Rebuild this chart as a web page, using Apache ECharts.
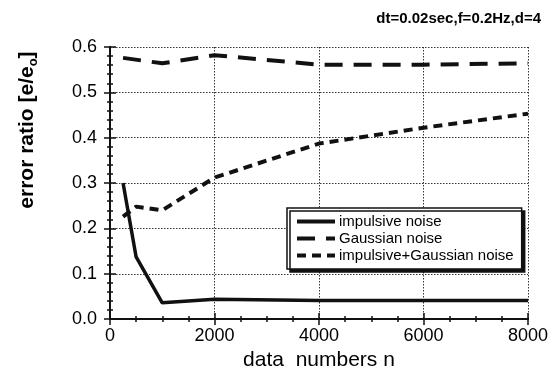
<!DOCTYPE html>
<html><head><meta charset="utf-8">
<script src="https://cdn.jsdelivr.net/npm/echarts@6/dist/echarts.min.js"></script>
<style>html,body{margin:0;padding:0;background:#fff}#c{width:552px;height:376px}</style>
</head><body><div id="c"></div>
<script>
const titleText = 'dt=0.02sec,f=0.2Hz,d=4';
const seriesNames = ['impulsive noise', 'Gaussian noise', 'impulsive+Gaussian noise'];
const impulsive = [[250, 0.30], [500, 0.137], [1000, 0.036], [2000, 0.044], [4000, 0.041], [6000, 0.041], [8000, 0.041]];
const gaussian = [[250, 0.576], [1000, 0.564], [2000, 0.582], [4000, 0.561], [6000, 0.561], [8000, 0.564]];
const combined = [[250, 0.226], [500, 0.248], [1000, 0.240], [2000, 0.312], [4000, 0.387], [6000, 0.422], [8000, 0.453]];
const xTicks = [0, 2000, 4000, 6000, 8000];
const yTicks = ['0.0', '0.1', '0.2', '0.3', '0.4', '0.5', '0.6'];

const chart = echarts.init(document.getElementById('c'));
const F = 'Liberation Sans, Arial, sans-serif';
const tickStyle = {inside: true, length: 6, lineStyle: {color: '#111', width: 1.5}};
const minorStyle = {show: true, length: 3, lineStyle: {color: '#111', width: 1.5}};
const dashes = ['solid', [18, 11], [9, 6]];
chart.setOption({
  animation: false,
  backgroundColor: '#fff',
  title: {text: titleText, right: 6, top: 6, textStyle: {fontFamily: F, fontSize: 15, fontWeight: 'bold', color: '#000'}},
  grid: {left: 110, right: 24, top: 47, bottom: 53},
  legend: {
    data: seriesNames.map((n, i) => ({name: n, lineStyle: {type: dashes[i], width: 4, color: '#111'}, itemStyle: {opacity: 0}})),
    orient: 'vertical', left: 287, top: 208,
    itemWidth: 38, itemHeight: 14, itemGap: 2, padding: [6, 8, 6, 8],
    backgroundColor: '#fff', borderColor: '#111', borderWidth: 1.5,
    shadowColor: '#111', shadowOffsetX: 3, shadowOffsetY: 3, shadowBlur: 0,
    textStyle: {fontFamily: F, fontSize: 15, color: '#000', padding: [0, 0, 0, -1]}
  },
  xAxis: [{
    type: 'value', min: 0, max: 8000, interval: 2000,
    name: 'data  numbers n', nameLocation: 'middle', nameGap: 29,
    nameTextStyle: {fontFamily: F, fontSize: 21, color: '#000'},
    axisLine: {show: true, lineStyle: {color: '#111', width: 2}},
    axisTick: tickStyle, minorTick: Object.assign({splitNumber: 4}, minorStyle),
    axisLabel: {fontFamily: F, fontSize: 18, color: '#000', margin: 8, formatter: v => xTicks.includes(v) ? String(v) : ''},
    splitLine: {show: true, lineStyle: {color: '#333', type: [1.5, 1.5], width: 1}}
  }, {
    type: 'value', min: 0, max: 8000, interval: 2000, position: 'top',
    axisLine: {show: true, lineStyle: {color: '#111', width: 2}},
    axisTick: tickStyle, minorTick: Object.assign({splitNumber: 4}, minorStyle),
    axisLabel: {show: false}, splitLine: {show: false}
  }],
  yAxis: [{
    type: 'value', min: 0, max: 0.6, interval: 0.1,
    name: 'error ratio [e/e{s|o}]', nameLocation: 'middle', nameGap: 70,
    nameTextStyle: {fontFamily: F, fontSize: 21, fontWeight: 'bold', color: '#000', padding: [0, 0, 0, 106],
      rich: {s: {fontFamily: F, fontSize: 13, fontWeight: 'bold', color: '#000', padding: [12, 0, 0, 0]}}},
    axisLine: {show: true, lineStyle: {color: '#111', width: 2}},
    axisTick: tickStyle, minorTick: Object.assign({splitNumber: 5}, minorStyle),
    axisLabel: {fontFamily: F, fontSize: 18, color: '#000', margin: 13, formatter: v => yTicks[Math.round(v * 10)]},
    splitLine: {show: true, lineStyle: {color: '#333', type: [1.5, 1.5], width: 1}}
  }, {
    type: 'value', min: 0, max: 0.6, interval: 0.1, position: 'right',
    axisLine: {show: true, lineStyle: {color: '#111', width: 2}},
    axisTick: tickStyle, minorTick: Object.assign({splitNumber: 5}, minorStyle),
    axisLabel: {show: false}, splitLine: {show: false}
  }],
  series: [
    {name: seriesNames[0], type: 'line', data: impulsive, symbol: 'none', lineStyle: {color: '#111', width: 3.5}, itemStyle: {color: '#111'}},
    {name: seriesNames[1], type: 'line', data: gaussian, symbol: 'none', lineStyle: {color: '#111', width: 4, type: dashes[1]}, itemStyle: {color: '#111'}},
    {name: seriesNames[2], type: 'line', data: combined, symbol: 'none', lineStyle: {color: '#111', width: 4, type: dashes[2]}, itemStyle: {color: '#111'}}
  ]
});
</script></body></html>
